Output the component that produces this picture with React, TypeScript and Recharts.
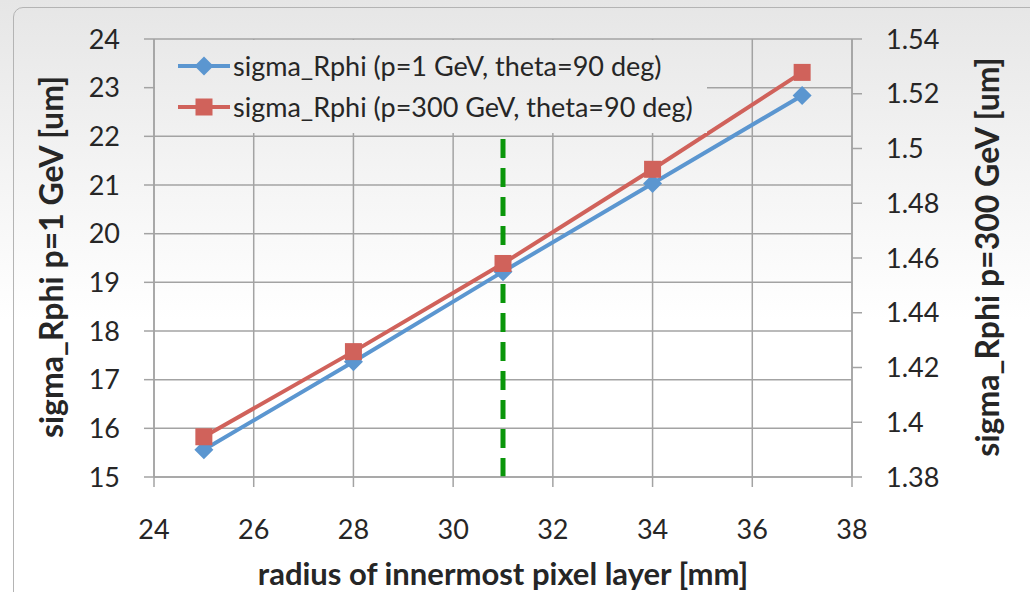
import { CartesianGrid, Label, Legend, Line, LineChart, ReferenceLine, XAxis, YAxis } from "recharts";

const radius = [25, 28, 31, 34, 37];
const sigmaP1 = [15.56, 17.37, 19.22, 21.03, 22.84];
const sigmaP300 = [1.3947, 1.4258, 1.458, 1.4924, 1.5278];
const xTicks = [24, 26, 28, 30, 32, 34, 36, 38];
const leftTicks = [15, 16, 17, 18, 19, 20, 21, 22, 23, 24];
const rightTicks = [1.38, 1.4, 1.42, 1.44, 1.46, 1.48, 1.5, 1.52, 1.54];
const cutRadius = 31;
const cutRange = [15, 22];

const seriesNames = ["sigma_Rphi (p=1 GeV, theta=90 deg)", "sigma_Rphi (p=300 GeV, theta=90 deg)"];

const data = radius.map((r, i) => ({ r, p1: sigmaP1[i], p300: sigmaP300[i] }));

const blue = "#5b96d0";
const red = "#d0625b";
const grid = "#a3a3a3";
const textColor = "#262626";
const font = "Lato, 'Noto Sans', sans-serif";
const bg = "linear-gradient(#e6e6e6 0px, #f6f6f6 200px, #ffffff 320px)";

const tickStyle = { fill: textColor, fontSize: 27, fontFamily: font };

function diamondDot(props: any) {
  const { cx, cy, index } = props;
  if (cx == null || cy == null) return <g key={index} />;
  const r = 9.5;
  return (
    <polygon key={index} points={`${cx},${cy - r} ${cx + r},${cy} ${cx},${cy + r} ${cx - r},${cy}`} fill={blue} />
  );
}

function squareDot(props: any) {
  const { cx, cy, index } = props;
  if (cx == null || cy == null) return <g key={index} />;
  const s = 17;
  return <rect key={index} x={cx - s / 2} y={cy - s / 2} width={s} height={s} fill={red} />;
}

function LegendBox({ payload }: any) {
  return (
    <div style={{ width: "100%", height: "100%", background: bg, backgroundAttachment: "fixed", paddingTop: 5, boxSizing: "border-box" }}>
      {(payload ?? []).map((entry: any) => (
        <div key={entry.value} style={{ display: "flex", alignItems: "center", height: 41, paddingLeft: 23 }}>
          <svg width={52} height={20} style={{ flexShrink: 0 }}>
            <line x1={0} y1={10} x2={52} y2={10} stroke={entry.color} strokeWidth={4} />
            {entry.dataKey === "p1" ? (
              <polygon points="26,0.5 35.5,10 26,19.5 16.5,10" fill={entry.color} />
            ) : (
              <rect x={17.5} y={1.5} width={17} height={17} fill={entry.color} />
            )}
          </svg>
          <span style={{ marginLeft: 3, fontFamily: font, fontSize: 27, color: textColor, whiteSpace: "nowrap" }}>
            {entry.value}
          </span>
        </div>
      ))}
    </div>
  );
}

function sideTitle(text: string, dx: number) {
  return (props: any) => {
    const vb = props.viewBox;
    const x = vb.x + dx;
    const y = 257;
    return (
      <text
        x={x}
        y={y}
        transform={`rotate(-90 ${x} ${y})`}
        textAnchor="middle"
        dominantBaseline="central"
        fill={textColor}
        fontFamily={font}
        fontSize={32}
        fontWeight="bold"
      >
        {text}
      </text>
    );
  };
}

export default function App() {
  return (
    <div style={{ position: "absolute", left: 0, top: 0, width: 1030, height: 592, background: bg, backgroundAttachment: "fixed", overflow: "hidden" }}>
      <div
        style={{
          position: "absolute",
          left: 13,
          top: 7,
          width: 1040,
          height: 620,
          border: "1.5px solid #b4b4b4",
          borderRadius: 10,
        }}
      />
      <div style={{ position: "absolute", left: 0, top: 0 }}>
        <LineChart width={1030} height={592} data={data} margin={{ top: 39, right: 0, bottom: 0, left: 0 }}>
          <CartesianGrid yAxisId="left" stroke={grid} strokeWidth={1.5} />
          <XAxis
            dataKey="r"
            type="number"
            domain={[24, 38]}
            ticks={xTicks}
            height={115}
            tick={tickStyle}
            tickSize={10}
            tickMargin={33}
            axisLine={{ stroke: grid, strokeWidth: 1.5 }}
            tickLine={{ stroke: grid, strokeWidth: 1.5 }}
          >
            <Label
              content={(props: any) => (
                <text
                  x={props.viewBox.x + props.viewBox.width / 2}
                  y={props.viewBox.y + 96}
                  textAnchor="middle"
                  dominantBaseline="central"
                  fill={textColor}
                  fontFamily={font}
                  fontSize={31}
                  fontWeight="bold"
                >
                  radius of innermost pixel layer [mm]
                </text>
              )}
            />
          </XAxis>
          <YAxis
            yAxisId="left"
            width={154}
            domain={[15, 24]}
            ticks={leftTicks}
            interval={0}
            tick={tickStyle}
            tickSize={10}
            tickMargin={24}
            axisLine={{ stroke: grid, strokeWidth: 1.5 }}
            tickLine={{ stroke: grid, strokeWidth: 1.5 }}
          >
            <Label content={sideTitle("sigma_Rphi p=1 GeV [um]", 50)} />
          </YAxis>
          <YAxis
            yAxisId="right"
            orientation="right"
            width={178}
            domain={[1.38, 1.54]}
            ticks={rightTicks}
            interval={0}
            tick={tickStyle}
            tickSize={10}
            tickMargin={24}
            axisLine={{ stroke: grid, strokeWidth: 1.5 }}
            tickLine={{ stroke: grid, strokeWidth: 1.5 }}
          >
            <Label content={sideTitle("sigma_Rphi p=300 GeV [um]", 134)} />
          </YAxis>
          <ReferenceLine
            yAxisId="left"
            segment={[
              { x: cutRadius, y: cutRange[0] },
              { x: cutRadius, y: cutRange[1] },
            ]}
            stroke="#0a960a"
            strokeWidth={5}
            strokeDasharray="19 10"
          />
          <Line
            yAxisId="left"
            dataKey="p1"
            name={seriesNames[0]}
            stroke={blue}
            strokeWidth={4}
            dot={diamondDot}
            activeDot={false}
            isAnimationActive={false}
          />
          <Line
            yAxisId="right"
            dataKey="p300"
            name={seriesNames[1]}
            stroke={red}
            strokeWidth={4}
            dot={squareDot}
            activeDot={false}
            isAnimationActive={false}
          />
          <Legend
            layout="horizontal"
            verticalAlign="middle"
            align="center"
            content={<LegendBox />}
            wrapperStyle={{ left: 155, top: 40, width: 552, height: 93 }}
          />
        </LineChart>
      </div>
    </div>
  );
}
